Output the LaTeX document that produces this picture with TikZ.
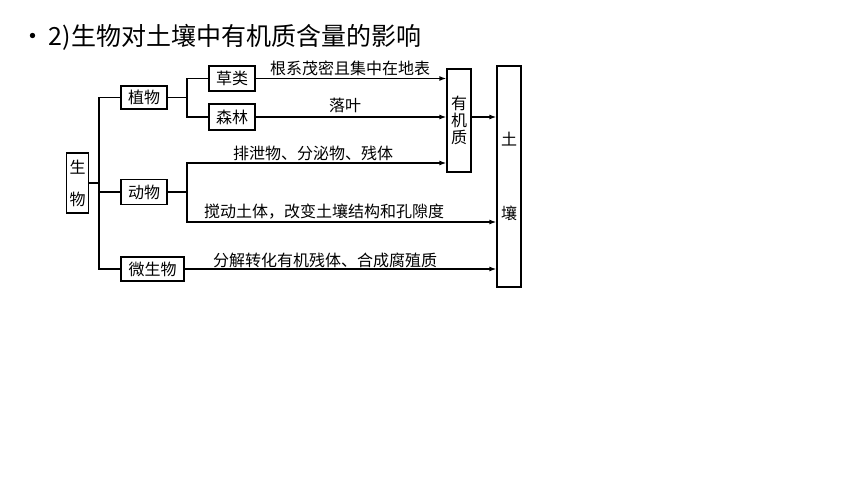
\documentclass[tikz,border=0pt]{standalone}
\usepackage{fontspec}
\setmainfont{Noto Sans CJK SC}
\usetikzlibrary{arrows.meta}

\begin{document}
\begin{tikzpicture}[x=1pt, y=-1pt,
                    box/.style={draw, line width=1.3pt, inner sep=0pt, align=center, font=\fontsize{16}{16}\selectfont},
                    lbl/.style={inner sep=0pt, font=\fontsize{16}{16}\selectfont},
                    edge_style/.style={draw=black, line width=1.3pt},
                    arr/.style={edge_style, -{Latex[length=7pt,width=5pt]}}]
                    \useasboundingbox (0,0) rectangle (860,484);
                    \node[anchor=west, inner sep=0pt, font=\fontsize{25}{25}\selectfont] (t0) at (20.5,37) {•\kern3pt 2)生物对土壤中有机质含量的影响};
                    \node[box, minimum width=22pt, minimum height=60pt] (b1) at (77.5,183) {生\\[16pt]物};
                    \node[box, minimum width=46pt, minimum height=23pt] (b2) at (144,97.5) {植物};
                    \node[box, minimum width=46pt, minimum height=25pt] (b3) at (144,192) {动物};
                    \node[box, minimum width=63pt, minimum height=24pt] (b4) at (152.5,269) {微生物};
                    \node[box, minimum width=46pt, minimum height=25pt] (b5) at (232,78.5) {草类};
                    \node[box, minimum width=46pt, minimum height=26pt] (b6) at (232,117) {森林};
                    \node[box, minimum width=24pt, minimum height=103pt, font=\fontsize{16}{17}\selectfont] (b7) at (459,120.5) {有\\机\\质};
                    \node[box, minimum width=24pt, minimum height=221pt] (b8) at (509,176.5) {土\\[58pt]壤};
                    \coordinate (j1) at (99,183);
                    \coordinate (j2) at (187,97.5);
                    \coordinate (j3) at (187,192);
                    \coordinate (y1) at (187,163);
                    \coordinate (y2) at (187,222);
                    \draw[edge_style] (b1.east) -- (j1);
                    \draw[edge_style] (b2.west) -| (j1) |- (b4.west);
                    \draw[edge_style] (j1 |- b3) -- (b3.west);
                    \draw[edge_style] (b2.east) -- (j2);
                    \draw[edge_style] (b5.west) -| (j2) |- (b6.west);
                    \draw[edge_style] (b3.east) -- (j3);
                    \draw[arr] (j3) |- (y1 -| b7.west);
                    \draw[arr] (j3) |- (y2 -| b8.west);
                    \draw[arr] (b5.east) -- (b5.east -| b7.west);
                    \draw[arr] (b6.east) -- (b6.east -| b7.west);
                    \draw[arr] (b6.east -| b7.east) -- (b6.east -| b8.west);
                    \draw[arr] (b4.east) -- (b4.east -| b8.west);
                    \node[lbl] (t1) at (350,68) {根系茂密且集中在地表};
                    \node[lbl] (t2) at (345,105) {落叶};
                    \node[lbl] (t3) at (313,153) {排泄物、分泌物、残体};
                    \node[lbl] (t4) at (324,212) {搅动土体，改变土壤结构和孔隙度};
                    \node[lbl] (t5) at (325,260) {分解转化有机残体、合成腐殖质};
                \end{tikzpicture}
\end{document}
